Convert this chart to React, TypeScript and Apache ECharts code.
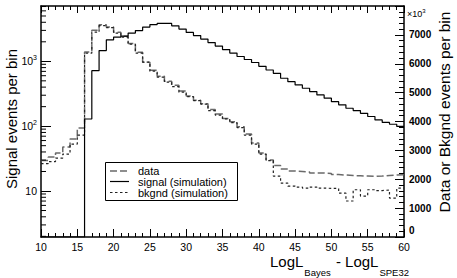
import React, { useEffect, useRef } from "react";
import * as echarts from "echarts";

// Histogram binning (bin low edges 10..59, width 1)
const BIN_START = 10;
const BIN_WIDTH = 1;

// Signal events per bin (left, log axis); bins 10..15 are empty
const signalCounts = [
  0, 0, 0, 0, 0, 0, 129, 717, 1466, 2148, 2365, 2450, 2725, 2977, 3371, 3683,
  3843, 3843, 3530, 3140, 2794, 2494, 2203, 1946, 1719, 1519, 1342, 1186, 1066,
  959, 838, 735, 654, 548, 485, 432, 384, 341, 303, 270, 239, 213, 189, 174, 158,
  141, 125, 114, 107, 99,
];

// Data events per bin (right axis, x10^3)
const dataCounts = [
  2647, 2768, 2906, 3114, 3391, 3771, 6411, 7162, 7353, 7276, 7093, 6955, 6702,
  6401, 6055, 5778, 5571, 5398, 5259, 5052, 4879, 4740, 4619, 4412, 4256, 4107,
  3989, 3816, 3564, 3252, 2906, 2664, 2474, 2353, 2284, 2266, 2249, 2214, 2214,
  2197, 2163, 2145, 2128, 2121, 2111, 2100, 2111, 2128, 2145, 2156,
];

// Background simulation events per bin (right axis, x10^3)
const bkgndCounts = [
  2543, 2612, 2733, 2872, 3218, 3529, 6366, 7093, 7318, 7249, 7058, 6920, 6678,
  6366, 6055, 5744, 5536, 5363, 5207, 5017, 4861, 4723, 4602, 4377, 4221, 4090,
  3962, 3789, 3529, 3218, 2872, 2647, 2111, 1868, 1765, 1730, 1695, 1730, 1695,
  1685, 1685, 1522, 1246, 1637, 1419, 1637, 1609, 1626, 1349, 1695,
];

// Axis ranges
const X_MIN = 10;
const X_MAX = 60;
const X_INTERVAL = 5;
const LEFT_MIN = 1.953;
const LEFT_MAX = 7130;
const RIGHT_MIN = 0;
const RIGHT_MAX = 8000;
const RIGHT_INTERVAL = 1000;

// Texts
const legendLabels = ["data", "signal (simulation)", "bkgnd (simulation)"];
const xTitleParts: [string, boolean][] = [
  ["LogL", false],
  ["Bayes", true],
  [" - LogL", false],
  ["SPE32", true],
];

const FONT = "'Liberation Sans', Arial, Helvetica, sans-serif";
const MAIN_SIZE = 15;
const SUB_SIZE = 9.5;

function histPoints(values: number[], floor?: number): number[][] {
  const pts: number[][] = [];
  values.forEach((v, i) => {
    const y = floor !== undefined && v <= 0 ? floor : v;
    pts.push([BIN_START + i * BIN_WIDTH, y]);
  });
  const last = values[values.length - 1];
  pts.push([BIN_START + values.length * BIN_WIDTH, last]);
  return pts;
}

function logMinorTicks(min: number, max: number): number[] {
  const out: number[] = [];
  for (let e = -1; e <= 5; e++) {
    const d = Math.pow(10, e);
    for (let m = 2; m <= 9; m++) {
      const v = m * d;
      if (v > min && v < max) out.push(v);
    }
  }
  return out;
}

function measure(text: string, size: number): number {
  const c = document.createElement("canvas").getContext("2d");
  if (!c) return text.length * size * 0.55;
  c.font = `${size}px ${FONT}`;
  return c.measureText(text).width;
}

export default function App() {
  const ref = useRef<HTMLDivElement>(null);

  useEffect(() => {
    if (!ref.current) return;
    const chart = echarts.init(ref.current, undefined, { renderer: "svg" });

    const axisLine = { show: true, onZero: false, lineStyle: { color: "#000", width: 1.5 } };

    // x-axis title with subscripts, right-aligned near the plot's right edge
    const titleRight = 410;
    const widths = xTitleParts.map(([t, sub]) => measure(t, sub ? SUB_SIZE : MAIN_SIZE) + 1);
    let cx = titleRight - widths.reduce((a, b) => a + b, 0);
    const titleTexts = xTitleParts.map(([t, sub], i) => {
      const el = {
        type: "text",
        x: cx,
        y: sub ? 272.8 : 261.5,
        style: {
          text: t,
          fontSize: sub ? SUB_SIZE : MAIN_SIZE,
          fontFamily: FONT,
          fill: "#000",
          align: "left",
          verticalAlign: "middle",
        },
      };
      cx += widths[i];
      return el;
    });

    const option: any = {
      animation: false,
      backgroundColor: "#fff",
      grid: { left: 41, right: 53, top: 6, bottom: 41 },
      xAxis: [
        {
          type: "value",
          position: "bottom",
          min: X_MIN,
          max: X_MAX,
          interval: X_INTERVAL,
          axisLine,
          axisTick: { show: true, inside: true, length: 8, lineStyle: { color: "#000", width: 1 } },
          minorTick: { show: true, splitNumber: 5, length: 4, lineStyle: { color: "#000", width: 1 } },
          splitLine: { show: false },
          axisLabel: { color: "#000", fontSize: 10.5, fontFamily: FONT, margin: 4 },
        },
        {
          type: "value",
          position: "top",
          min: X_MIN,
          max: X_MAX,
          interval: X_INTERVAL,
          axisLine,
          axisTick: { show: true, inside: true, length: 7, lineStyle: { color: "#000", width: 1 } },
          minorTick: { show: true, splitNumber: 5, length: 4, lineStyle: { color: "#000", width: 1 } },
          splitLine: { show: false },
          axisLabel: { show: false },
        },
      ],
      yAxis: [
        {
          type: "log",
          logBase: 10,
          position: "left",
          min: LEFT_MIN,
          max: LEFT_MAX,
          axisLine,
          axisTick: { show: true, inside: true, length: 10, lineStyle: { color: "#000", width: 1 } },
          splitLine: { show: false },
          axisLabel: {
            color: "#000",
            fontFamily: FONT,
            margin: 4,
            showMinLabel: false,
            showMaxLabel: false,
            formatter: (v: number) => {
              const e = Math.log10(v);
              const r = Math.round(e);
              if (Math.abs(e - r) > 1e-6 || r < 1) return "";
              return r === 1 ? "{b|10}" : `{b|10}{sup|${r}}`;
            },
            rich: {
              b: { fontSize: 10.5, fontFamily: FONT, color: "#000" },
              sup: { fontSize: 7, fontFamily: FONT, color: "#000", padding: [0, 0, 8, 0] },
            },
          },
        },
        {
          type: "value",
          position: "right",
          min: RIGHT_MIN,
          max: RIGHT_MAX,
          interval: RIGHT_INTERVAL,
          axisLine,
          axisTick: { show: true, inside: true, length: 9, lineStyle: { color: "#000", width: 1 } },
          minorTick: { show: true, splitNumber: 5, length: 5, lineStyle: { color: "#000", width: 1 } },
          splitLine: { show: false },
          axisLabel: {
            color: "#000",
            fontSize: 10,
            fontWeight: "bold",
            fontFamily: FONT,
            margin: 5,
            showMinLabel: true,
            formatter: (v: number) =>
              v >= RIGHT_MAX ? "" : v === RIGHT_MIN ? `{z|${v}}` : String(v),
            rich: {
              z: {
                fontSize: 10,
                fontWeight: "bold",
                fontFamily: FONT,
                color: "#000",
                padding: [0, 0, 14, 0],
              },
            },
          },
        },
      ],
      series: [
        {
          type: "line",
          name: "signal",
          xAxisIndex: 0,
          yAxisIndex: 0,
          step: "end",
          symbol: "none",
          data: histPoints(signalCounts, LEFT_MIN),
          lineStyle: { color: "#000", width: 1.2 },
          z: 4,
        },
        {
          type: "line",
          name: "data",
          xAxisIndex: 0,
          yAxisIndex: 1,
          step: "end",
          symbol: "none",
          data: histPoints(dataCounts),
          lineStyle: { color: "#6a6a6a", width: 1.5, type: [7, 3] },
          z: 3,
        },
        {
          type: "line",
          name: "bkgnd",
          xAxisIndex: 0,
          yAxisIndex: 1,
          step: "end",
          symbol: "none",
          data: histPoints(bkgndCounts),
          lineStyle: { color: "#222", width: 1.2, type: [2.5, 2.5] },
          z: 3,
        },
        {
          type: "custom",
          name: "logMinorTicks",
          xAxisIndex: 0,
          yAxisIndex: 0,
          silent: true,
          clip: false,
          data: logMinorTicks(LEFT_MIN, LEFT_MAX).map((v) => [X_MIN, v]),
          renderItem: (_params: any, api: any) => {
            const p = api.coord([X_MIN, api.value(1)]);
            return {
              type: "line",
              shape: { x1: p[0], y1: p[1], x2: p[0] + 5, y2: p[1] },
              style: { stroke: "#000", lineWidth: 1 },
            };
          },
          z: 5,
        },
      ],
      graphic: [
        {
          type: "text",
          x: 11,
          y: 119,
          rotation: Math.PI / 2,
          style: {
            text: "Signal events per bin",
            fontSize: 15,
            fontFamily: FONT,
            fill: "#000",
            align: "center",
            verticalAlign: "middle",
          },
        },
        {
          type: "text",
          x: 444,
          y: 112,
          rotation: Math.PI / 2,
          style: {
            text: "Data or Bkgnd events per bin",
            fontSize: 15.5,
            fontFamily: FONT,
            fill: "#000",
            align: "center",
            verticalAlign: "middle",
          },
        },
        ...titleTexts,
        {
          type: "text",
          x: 407,
          y: 14,
          style: {
            text: "×10{s|3}",
            fontSize: 9,
            fontFamily: FONT,
            fill: "#000",
            verticalAlign: "middle",
            rich: {
              s: { fontSize: 6, fontFamily: FONT, padding: [0, 0, 6, 0], fill: "#000" },
            },
          },
        },
        {
          type: "group",
          z: 100,
          children: [
            {
              type: "rect",
              shape: { x: 105.5, y: 162.5, width: 132, height: 38 },
              style: { fill: "#fff", stroke: "#000", lineWidth: 1 },
            },
            {
              type: "line",
              shape: { x1: 110, y1: 171, x2: 129, y2: 171 },
              style: { stroke: "#6a6a6a", lineWidth: 1.5, lineDash: [7, 3] },
            },
            {
              type: "line",
              shape: { x1: 110, y1: 181.5, x2: 129, y2: 181.5 },
              style: { stroke: "#000", lineWidth: 1.2 },
            },
            {
              type: "line",
              shape: { x1: 110, y1: 192.5, x2: 129, y2: 192.5 },
              style: { stroke: "#222", lineWidth: 1.2, lineDash: [2.5, 2.5] },
            },
            ...legendLabels.map((t, i) => ({
              type: "text",
              x: 138,
              y: 171 + i * 10.8,
              style: {
                text: t,
                fontSize: 11,
                fontFamily: FONT,
                fill: "#000",
                verticalAlign: "middle",
              },
            })),
          ],
        },
      ],
    };

    chart.setOption(option);
    return () => chart.dispose();
  }, []);

  return (
    <div
      ref={ref}
      style={{ position: "absolute", left: 0, top: 0, width: 457, height: 278, background: "#fff" }}
    />
  );
}
